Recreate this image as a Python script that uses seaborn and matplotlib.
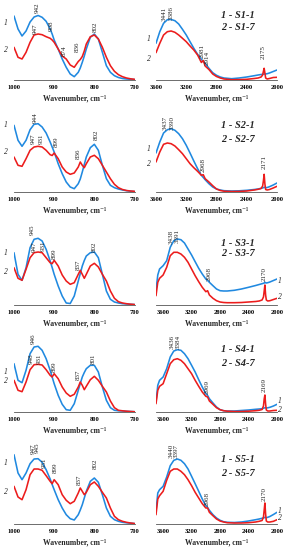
import pandas as pd
import matplotlib
matplotlib.use('Agg')
import matplotlib.pyplot as plt
import seaborn as sns

# wavenumber grids, cm-1
wn_low = [1000, 990, 980, 970, 960, 950, 940, 930, 920, 910, 905, 900, 890, 880, 870,
          860, 850, 840, 835, 830, 825, 820, 810, 800, 790, 780, 770, 760, 750, 740,
          730, 720, 710, 700]
wn_high = [3700, 3675, 3650, 3600, 3550, 3500, 3450, 3400, 3350, 3300, 3250, 3200, 3150,
           3100, 3050, 3000, 2975, 2950, 2900, 2850, 2800, 2750, 2700, 2600, 2500, 2400,
           2300, 2250, 2210, 2190, 2180, 2170, 2160, 2150, 2130, 2100, 2050, 2000]

samples = ['S1', 'S2', 'S3', 'S4', 'S5']

# absorbance (arb. units), curve 1 = sample-1, curve 2 = sample-7
s1_1_low = [64, 51, 44, 49, 58, 63, 64.5, 62.7, 58.7, 51, 46, 40, 31, 21, 12.7, 6, 3.3, 7.7, 12,
            17.7, 24, 31, 42.7, 46, 41, 27.7, 14.3, 7.7, 4.3, 2.5, 1.5, 1, 0.7, 0.5]
s1_7_low = [32.7, 22.7, 21, 27.7, 37.7, 45, 46, 45.3, 43.3, 41.7, 40, 37.7, 31, 24, 21, 15, 12.7,
            18.5, 20.5, 23.5, 29, 36, 43.3, 45, 41, 32.7, 22.7, 14.3, 8.7, 5.3, 3.3, 2, 1.2, 0.7]
s2_1_low = [66.7, 51.7, 45.7, 51.7, 62.3, 67.7, 68.3, 65, 59, 50, 45, 40, 28.3, 18.3, 10, 5, 3.3,
            8.3, 13, 20, 27.5, 35, 44.3, 47.7, 41.7, 26.7, 13.3, 6.7, 4.3, 3, 2, 1.3, 0.8, 0.5]
s2_7_low = [35, 26.7, 25.7, 33.3, 41.7, 45, 45.7, 45, 41.7, 37.3, 36.5, 39, 33.3, 25, 20, 17.7, 19,
            25, 30, 26.7, 24.3, 28.3, 35, 36.7, 33.3, 26.7, 20, 13.3, 7.7, 4.3, 2.5, 1.5, 1, 0.7]
s3_1_low = [52.3, 30.7, 24.7, 37.3, 57.3, 65.7, 66.7, 64, 55.7, 44, 37.5, 30.7, 19, 9, 2, 1.5, 9,
            24, 31.5, 39, 44.5, 49, 52.3, 53, 47.3, 30.7, 14, 5.7, 3, 2, 1.3, 1, 0.7, 0.5]
s3_7_low = [37.3, 26.7, 24.7, 35.7, 47.3, 52.3, 53, 52.3, 47.3, 42.3, 41.3, 44.7, 39, 30, 24, 20.7,
            22.3, 30.7, 34.7, 30.7, 26.7, 30.7, 39, 41.7, 38, 30.7, 24, 14, 6.7, 3.3, 2, 1.3, 0.8, 0.5]
s4_1_low = [48.3, 31.7, 29.3, 41.7, 58.3, 65, 65.7, 61.7, 53.3, 41.7, 35, 28.3, 16.7, 7.7, 2.3, 1.7,
            8.3, 21.7, 28.5, 35, 39.5, 43.3, 46.7, 46.7, 40, 25, 11.7, 4.3, 1.7, 1.2, 1, 0.7, 0.5, 0.3]
s4_7_low = [31.7, 21.7, 20.3, 30, 42.3, 47.3, 47.7, 47, 42.3, 36.7, 35, 38.3, 33.3, 25, 19, 15.7,
            17.7, 25, 30, 26.7, 22.3, 25.7, 32.3, 35.7, 31.7, 25.7, 20, 11, 4.3, 1.7, 1.2, 0.8, 0.5, 0.3]
s5_1_low = [69.3, 51, 44.3, 51, 60.3, 65, 65.3, 61.7, 54.3, 45, 39.5, 34.3, 24.3, 16, 9.3, 5.3, 4,
            9.3, 14, 19.3, 26, 32.7, 42.7, 46, 41.7, 29.3, 16, 7.7, 4.3, 2.7, 1.7, 1.2, 0.8, 0.5]
s5_7_low = [37.7, 27, 24.3, 34.3, 49.3, 55, 55, 53.7, 48.3, 42.7, 40.3, 44.3, 39.3, 29.3, 23.7, 20.3,
            22.7, 31, 36, 32.7, 29.3, 31.7, 39.3, 42, 37.7, 31.7, 26, 16, 7.7, 4.3, 2.7, 1.7, 1, 0.5]

s1_1_high = [None, None, None, 36.7, 48.3, 56.7, 60.3, 60.5, 59.3, 56, 50.7, 45, 38.3, 31.7, 25.7,
             20.7, 18.5, 16.7, 11.7, 7.3, 4.7, 3, 2, 1.3, 2, 3, 4.3, 5, 5.5, 5.7, 5.8, 6, 6, 6,
             6.3, 7, 8.5, 10]
s1_7_high = [None, None, None, 27.3, 36.7, 45, 48.3, 49, 47.7, 45, 41.7, 38.3, 34, 30, 25, 17.5,
             19.5, 14, 10.5, 6, 3.5, 2, 1, 0.3, 0.4, 0.7, 1.5, 2, 3, 5, 8.5, 11.7, 7, 2, 1, 1.5,
             2.5, 2.7]
s2_1_high = [None, None, None, 39, 50, 59, 62.3, 63.3, 61.7, 58.3, 53.3, 46.7, 39, 31, 23.3, 16.7,
             14.5, 12.3, 8.3, 5, 3, 2, 1.3, 1, 1.2, 1.7, 2.5, 3, 3.7, 4, 4.3, 4.7, 4.5, 4.3, 4.5,
             5.3, 7, 9]
s2_7_high = [None, None, None, 30, 40, 47.7, 49, 48.3, 46, 42.3, 38.3, 33.3, 28.3, 24.3, 20.7, 16.7,
             17.3, 13.3, 10, 6.3, 3, 1.5, 0.8, 0.5, 0.6, 1, 2, 2.7, 3.5, 6, 11, 17.7, 8, 2.5, 2,
             2.5, 4, 5.7]
s3_1_high = [15, 30, 36, 39.3, 44.3, 57.7, 64.3, 66, 65.3, 62, 56, 50, 43.3, 36.7, 31, 26, 24.5,
             22.7, 19.3, 16, 14.3, 14, 14, 14.7, 16, 17.7, 19.5, 20.5, 21.3, 21.7, 22, 22.7, 22.3,
             22, 22.3, 23, 24.5, 26]
s3_7_high = [9.3, 22.7, 26.7, 30, 37.7, 49.3, 52.7, 52.7, 51, 47.7, 42.7, 36, 29.3, 23.3, 17.7,
             13.3, 14.3, 10, 6.7, 4.3, 3, 2.5, 2.3, 2.3, 2.5, 3, 3.5, 4, 5, 8, 14, 20, 10, 5, 4,
             4.3, 5.5, 6.7]
s4_1_high = [10, 26.7, 31.7, 35, 43.3, 55, 61, 62.3, 61.7, 58.3, 53.3, 46.7, 40, 32.3, 25, 18.3,
             16.5, 13.3, 9, 5, 2.3, 1.3, 1, 1, 1.5, 2, 2.7, 3, 3.3, 3.7, 4, 4.3, 4.2, 4, 4.2, 4.7,
             6, 7.7]
s4_7_high = [8.3, 21.7, 25.7, 28.3, 38.3, 48.3, 52.3, 53.3, 51.7, 48.3, 43.3, 38.3, 31.7, 25.7, 20,
             15.7, 15, 11, 7.7, 4.3, 2.3, 1.3, 0.8, 0.5, 0.5, 0.8, 1.3, 1.7, 2.5, 6, 13, 17, 8, 2,
             1, 1, 1.5, 1.7]
s5_1_high = [12.7, 31, 34.3, 37.7, 47, 58.3, 63.7, 65, 63.7, 60.3, 55, 47.7, 40.3, 32.7, 25, 18.3,
             16.5, 13.7, 9.3, 6, 3.7, 2.3, 1.7, 1.5, 2, 3, 4.3, 5, 5.7, 6, 6.3, 6.7, 6.5, 6.3, 6.7,
             7.5, 9.5, 11.7]
s5_7_high = [9.3, 25, 28.3, 32.7, 43.7, 52.7, 55, 55, 52.7, 49.3, 44.3, 38.3, 31.7, 26, 20.3, 16,
             16, 11.7, 8.3, 5, 3, 2, 1.3, 1, 1, 1.3, 2, 2.7, 3.5, 7, 14, 21, 10, 3, 2, 2, 2.7, 4.3]

low_curves = [(s1_1_low, s1_7_low), (s2_1_low, s2_7_low), (s3_1_low, s3_7_low),
              (s4_1_low, s4_7_low), (s5_1_low, s5_7_low)]
high_curves = [(s1_1_high, s1_7_high), (s2_1_high, s2_7_high), (s3_1_high, s3_7_high),
               (s4_1_high, s4_7_high), (s5_1_high, s5_7_high)]

# peak labels
peaks_low = [['942', '947', '908', '874', '836', '802'],
             ['944', '947', '931', '899', '836', '802'],
             ['945', '947', '931', '899', '837', '802'],
             ['946', '948', '931', '899', '837', '801'],
             ['947', '945', '931', '899', '837', '802']]
peaks_high = [['3441', '3386', '2981', '2914', '2175'],
              ['3437', '3390', '2968', '2171'],
              ['3438', '3391', '2968', '2170'],
              ['3436', '3384', '2969', '2169'],
              ['3440', '3397', '2968', '2170']]

# layout: where the peak labels sit (x in cm-1, bottom height)
peaks_low_pos = [[(943, 67), (947, 46), (908, 49), (875, 24), (843, 28), (797, 48)],
                 [(947, 69), (951, 48), (932, 48), (895, 45), (839, 33), (795, 52)],
                 [(954, 70), (950, 53), (928, 54), (899, 46), (841, 35), (799, 53)],
                 [(951, 68), (956, 48), (938, 48), (899, 40), (840, 32), (802, 48)],
                 [(952, 70), (942, 71), (924, 56), (897, 51), (838, 39), (798, 55)]]
peaks_high_pos = [[(3494, 59), (3393, 60), (2987, 22), (2926, 15), (2181, 21)],
                  [(3485, 62), (3384, 62), (2974, 20), (2172, 23)],
                  [(3492, 61), (3399, 62), (2950, 24), (2175, 24)],
                  [(3469, 63), (3390, 63), (2978, 18), (2185, 20)],
                  [(3492, 66), (3413, 66), (2978, 18), (2185, 23)]]
num_low_pos = [(57, 30), (67, 40), (52, 33), (40, 31), (61, 32)]
num_high_pos = [(41, 21), (43, 28), (24, 8), (11, 2), (13, 6)]
legend_pos = [(64, 53), (66, 53), (61, 52), (63, 49), (64, 51)]
row_base = [80, 192, 305, 412, 524]

BLUE = '#2089e0'
RED = '#ec1c1c'

sns.set_style('white')
plt.rcParams['font.family'] = ['Liberation Serif', 'DejaVu Serif']

fig = plt.figure(figsize=(2.88, 5.5), dpi=100)


def draw_panel(ax, wn, c1, c2, xlim, xticks):
    n = len(wn)
    df = pd.DataFrame({'wn': wn * 2, 'A': c1 + c2, 'curve': ['1'] * n + ['2'] * n})
    df = df.dropna()
    sns.lineplot(data=df, x='wn', y='A', hue='curve', palette={'1': BLUE, '2': RED},
                 estimator=None, legend=False, linewidth=1.15, ax=ax)
    ax.set_xlim(*xlim)
    ax.set_ylim(0, 75)
    ax.set_xticks(xticks)
    ax.set_yticks([])
    ax.set_ylabel('')
    ax.set_xlabel('Wavenumber, cm\u207b\u00b9', fontsize=5.5, fontweight='bold', labelpad=3)
    ax.patch.set_alpha(0)
    sns.despine(ax=ax, left=True)
    ax.spines['bottom'].set_color('#555555')
    ax.spines['bottom'].set_linewidth(0.6)
    ax.tick_params(axis='x', direction='out', length=2, width=0.6, pad=1.5,
                   labelsize=4.7, colors='black')
    plt.setp(ax.get_xticklabels(), fontweight='bold')


for i, s in enumerate(samples):
    bottom = (550 - row_base[i]) / 550
    ax_l = fig.add_axes([14 / 288, bottom, 120.5 / 288, 75 / 550])
    ax_r = fig.add_axes([156 / 288, bottom, 121 / 288, 75 / 550])

    draw_panel(ax_l, wn_low, *low_curves[i], (1000, 700), [1000, 900, 800, 700])
    hi_lim = (3600, 2000) if i < 2 else (3700, 2000)
    draw_panel(ax_r, wn_high, *high_curves[i], hi_lim, [3600, 3200, 2800, 2400, 2000])

    for txt, (x, y) in zip(peaks_low[i], peaks_low_pos[i]):
        ax_l.text(x, y, txt, rotation=90, ha='center', va='bottom', fontsize=5)
    for txt, (x, y) in zip(peaks_high[i], peaks_high_pos[i]):
        ax_r.text(x, y, txt, rotation=90, ha='center', va='bottom', fontsize=5)

    # curve numbers
    y1, y2 = num_low_pos[i]
    ax_l.text(1020, y1, '1', ha='center', va='center', fontsize=5.5, style='italic')
    ax_l.text(1020, y2, '2', ha='center', va='center', fontsize=5.5, style='italic')
    y1, y2 = num_high_pos[i]
    xn = 3693 if i < 2 else 1960
    ax_r.text(xn, y1, '1', ha='center', va='center', fontsize=5.5, style='italic')
    ax_r.text(xn, y2, '2', ha='center', va='center', fontsize=5.5, style='italic')

    # sample legend
    ly1, ly2 = legend_pos[i]
    tr = ax_r.get_yaxis_transform()
    ax_r.text(0.68, ly1, f'1 - {s}-1', transform=tr, ha='center', va='center',
              fontsize=7.5, fontweight='bold', style='italic')
    ax_r.text(0.68, ly2, f'2 - {s}-7', transform=tr, ha='center', va='center',
              fontsize=7.5, fontweight='bold', style='italic')

plt.savefig('out.png', dpi=100)
plt.close()
